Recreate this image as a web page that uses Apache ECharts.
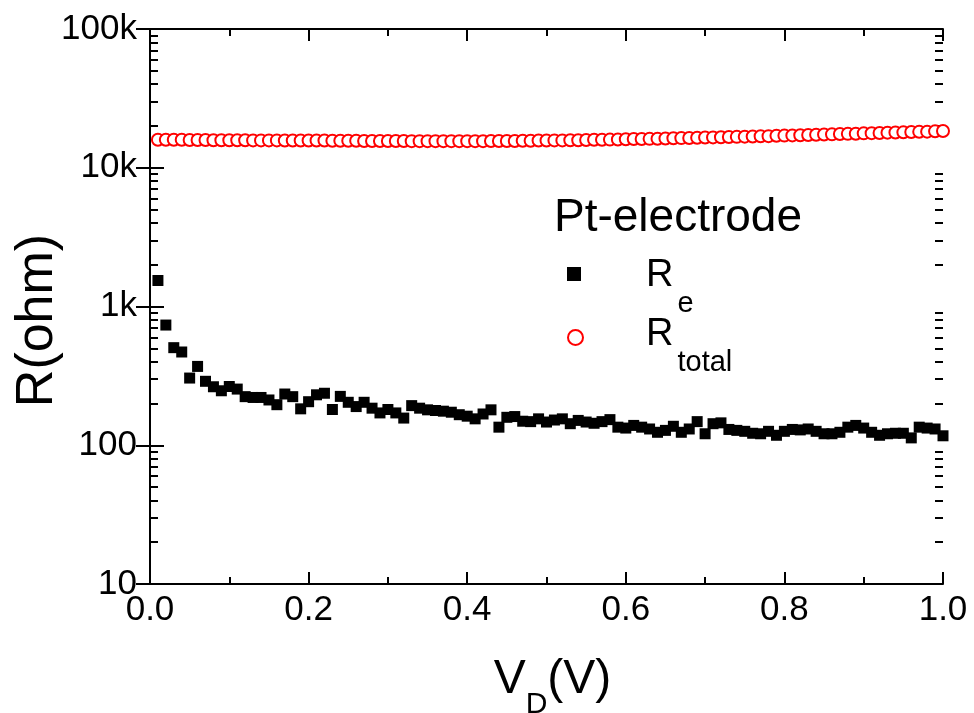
<!DOCTYPE html>
<html>
<head>
<meta charset="utf-8">
<script src="https://cdn.jsdelivr.net/npm/echarts@6/dist/echarts.min.js"></script>
<style>
  html, body { margin: 0; padding: 0; background: #fff; }
  #chart { width: 974px; height: 713px; }
</style>
</head>
<body>
<div id="chart"></div>
<script>
// V_D sweep (V)
const vd = [
  0.01, 0.02, 0.03, 0.04, 0.05, 0.06, 0.07, 0.08, 0.09, 0.10,
  0.11, 0.12, 0.13, 0.14, 0.15, 0.16, 0.17, 0.18, 0.19, 0.20,
  0.21, 0.22, 0.23, 0.24, 0.25, 0.26, 0.27, 0.28, 0.29, 0.30,
  0.31, 0.32, 0.33, 0.34, 0.35, 0.36, 0.37, 0.38, 0.39, 0.40,
  0.41, 0.42, 0.43, 0.44, 0.45, 0.46, 0.47, 0.48, 0.49, 0.50,
  0.51, 0.52, 0.53, 0.54, 0.55, 0.56, 0.57, 0.58, 0.59, 0.60,
  0.61, 0.62, 0.63, 0.64, 0.65, 0.66, 0.67, 0.68, 0.69, 0.70,
  0.71, 0.72, 0.73, 0.74, 0.75, 0.76, 0.77, 0.78, 0.79, 0.80,
  0.81, 0.82, 0.83, 0.84, 0.85, 0.86, 0.87, 0.88, 0.89, 0.90,
  0.91, 0.92, 0.93, 0.94, 0.95, 0.96, 0.97, 0.98, 0.99, 1.00
];
// R_e (ohm)
const rE = [
  1540, 735, 505, 470, 305, 370, 289, 264, 247, 265,
  254, 224, 221, 221, 212, 196, 234, 224, 183, 206,
  231, 237, 181, 225, 204, 190, 204, 185, 171, 181,
  171, 157, 193, 185, 180, 178, 176, 173, 166, 162,
  155, 168, 180, 135, 159, 161, 149, 148, 155, 147,
  152, 155, 143, 151, 147, 144, 148, 153, 135, 133,
  139, 135, 131, 124, 128, 137, 124, 131, 148, 121,
  143, 145, 130, 128, 126, 122, 121, 126, 118, 126,
  130, 129, 131, 126, 121, 121, 124, 135, 139, 133,
  124, 118, 121, 122, 122, 113, 135, 133, 131, 117
];
// R_total (ohm)
const rTotal = [
  15900, 15900, 15900, 15900, 15850, 15850, 15850, 15800, 15800, 15800,
  15800, 15800, 15750, 15750, 15750, 15750, 15700, 15700, 15700, 15700,
  15700, 15700, 15650, 15650, 15650, 15650, 15600, 15600, 15600, 15600,
  15600, 15600, 15550, 15550, 15550, 15550, 15550, 15550, 15550, 15550,
  15550, 15550, 15600, 15600, 15600, 15600, 15650, 15650, 15700, 15700,
  15750, 15750, 15800, 15800, 15850, 15900, 15900, 15950, 16000, 16050,
  16100, 16100, 16150, 16200, 16250, 16300, 16350, 16400, 16450, 16500,
  16550, 16600, 16650, 16700, 16750, 16800, 16850, 16900, 17000, 17050,
  17100, 17150, 17200, 17300, 17350, 17400, 17500, 17550, 17600, 17700,
  17750, 17800, 17900, 17950, 18000, 18100, 18150, 18200, 18300, 18400
];
const yTickValues = [10, 100, 1000, 10000, 100000];
const yTickLabels = ["10", "100", "1k", "10k", "100k"];
// minor ticks of the log axis: 2..9 of each decade
const minorMant = [2, 3, 4, 5, 6, 7, 8, 9];
const decades = [1, 2, 3, 4];

const FONT = "'Liberation Sans', Arial, sans-serif";
const gridBox = { left: 150, right: 31, top: 29, bottom: 129, outerBoundsMode: "none" };

let minorLog = [];
decades.forEach((d) => {
  minorMant.forEach((m) => minorLog.push(d + Math.log10(m)));
});

const pair = (xs, ys) => xs.map((x, i) => [x, ys[i]]);

// subscripted legend labels (drawn as titles next to the legend icons)
const subRich = {
  main: { fontSize: 38, fontWeight: "normal", fontFamily: FONT, color: "#000", lineHeight: 42, verticalAlign: "top" },
  sub: { fontSize: 29, fontWeight: "normal", fontFamily: FONT, color: "#000", lineHeight: 32, verticalAlign: "top", padding: [32, 0, 0, 4] },
};
const legendText = { Re: ["R", "e"], Rtotal: ["R", "total"] };
const subText = (n) => "{main|" + legendText[n][0] + "}{sub|" + legendText[n][1] + "}";

const axisBlack = { color: "#000", width: 2 };

const chart = echarts.init(document.getElementById("chart"));
const option = {
  backgroundColor: "#fff",
  animation: false,
  title: [
    {
      text: "Pt-electrode",
      left: 549,
      top: 190,
      textStyle: { fontSize: 46, fontWeight: "normal", fontFamily: FONT, color: "#000" },
    },
    { text: subText("Re"), left: 641, top: 252, textStyle: { fontWeight: "normal", rich: subRich } },
    { text: subText("Rtotal"), left: 641, top: 311, textStyle: { fontWeight: "normal", rich: subRich } },
  ],
  legend: [
    {
      data: [{ name: "Re", icon: "rect" }],
      left: 562,
      top: 262,
      itemWidth: 14,
      itemHeight: 14,
      formatter: () => "",
      selectedMode: false,
    },
    {
      data: [{ name: "Rtotal", icon: "emptyCircle" }],
      left: 562,
      top: 324,
      itemWidth: 15,
      itemHeight: 15,
      formatter: () => "",
      selectedMode: false,
    },
  ],
  grid: [
    Object.assign({}, gridBox),
    Object.assign({}, gridBox),
  ],
  xAxis: [
    {
      type: "value",
      gridIndex: 0,
      position: "bottom",
      min: 0,
      max: 1,
      interval: 0.2,
      name: "{main|V}{sub|D}{main|(V)}",
      nameLocation: "middle",
      nameGap: 72,
      nameTextStyle: {
        padding: [0, 0, 0, 12],
        rich: {
          main: { fontSize: 48, fontFamily: FONT, color: "#000", lineHeight: 52, verticalAlign: "top" },
          sub: { fontSize: 30, fontFamily: FONT, color: "#000", lineHeight: 32, verticalAlign: "top", padding: [34, 0, 0, 0] },
        },
      },
      axisLine: { lineStyle: axisBlack },
      axisTick: { inside: true, length: 12, lineStyle: axisBlack },
      minorTick: { show: true, splitNumber: 2, length: 7, lineStyle: axisBlack },
      axisLabel: { fontSize: 35, fontFamily: FONT, color: "#000", margin: 9, formatter: (v) => v.toFixed(1) },
      splitLine: { show: false },
    },
    {
      type: "value",
      gridIndex: 0,
      position: "top",
      min: 0,
      max: 1,
      interval: 0.2,
      axisLine: { lineStyle: axisBlack },
      axisTick: { inside: true, length: 12, lineStyle: axisBlack },
      minorTick: { show: true, splitNumber: 2, length: 7, lineStyle: axisBlack },
      axisLabel: { show: false },
      splitLine: { show: false },
    },
    { type: "value", gridIndex: 1, min: 0, max: 1, show: false },
  ],
  yAxis: [
    {
      type: "log",
      gridIndex: 0,
      position: "left",
      logBase: 10,
      min: 10,
      max: 100000,
      name: "R(ohm)",
      nameLocation: "middle",
      nameGap: 86,
      nameMoveOverlap: false,
      nameTextStyle: { fontSize: 52, fontFamily: FONT, color: "#000", padding: [0, 28, 0, 0] },
      axisLine: { lineStyle: axisBlack },
      axisTick: { inside: true, length: 14, lineStyle: axisBlack },
      axisLabel: {
        fontSize: 35,
        fontFamily: FONT,
        color: "#000",
        margin: 13,
        formatter: (v) => {
          const i = yTickValues.findIndex((t) => Math.abs(t - v) / t < 1e-6);
          return i >= 0 ? yTickLabels[i] : "";
        },
      },
      splitLine: { show: false },
    },
    {
      type: "log",
      gridIndex: 0,
      position: "right",
      logBase: 10,
      min: 10,
      max: 100000,
      axisLine: { lineStyle: axisBlack },
      axisTick: { inside: true, length: 14, lineStyle: axisBlack },
      axisLabel: { show: false },
      splitLine: { show: false },
    },
    {
      type: "value",
      gridIndex: 1,
      position: "left",
      min: 1,
      max: 5,
      axisLine: { show: false },
      axisTick: { inside: true, length: 8, customValues: minorLog, lineStyle: axisBlack },
      axisLabel: { show: false },
      splitLine: { show: false },
    },
    {
      type: "value",
      gridIndex: 1,
      position: "right",
      min: 1,
      max: 5,
      axisLine: { show: false },
      axisTick: { inside: true, length: 8, customValues: minorLog, lineStyle: axisBlack },
      axisLabel: { show: false },
      splitLine: { show: false },
    },
  ],
  series: [
    {
      name: "Rtotal",
      type: "scatter",
      xAxisIndex: 0,
      yAxisIndex: 0,
      symbol: "emptyCircle",
      symbolSize: 12,
      itemStyle: { color: "#ff0000", borderColor: "#ff0000", borderWidth: 1, opacity: 1 },
      data: pair(vd, rTotal),
    },
    {
      name: "Re",
      type: "scatter",
      xAxisIndex: 0,
      yAxisIndex: 0,
      symbol: "rect",
      symbolSize: 11,
      itemStyle: { color: "#000", opacity: 1 },
      data: pair(vd, rE),
    },
  ],
};
chart.setOption(option);
</script>
</body>
</html>
